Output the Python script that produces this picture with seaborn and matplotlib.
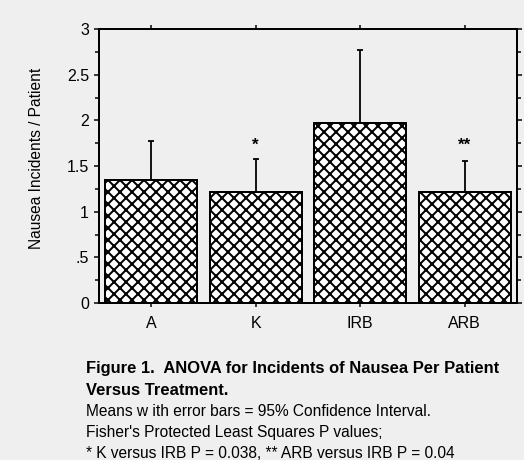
import matplotlib
matplotlib.use("Agg")
import matplotlib.pyplot as plt
from matplotlib.ticker import MultipleLocator, FixedLocator
import seaborn as sns

# values
treatments = ["A", "K", "IRB", "ARB"]
means = [1.35, 1.22, 1.97, 1.21]
ci_upper = [1.77, 1.58, 2.77, 1.56]
stars = ["", "*", "", "**"]
ytick_vals = [0, 0.5, 1, 1.5, 2, 2.5, 3]
ytick_text = ["0", ".5", "1", "1.5", "2", "2.5", "3"]

caption_bold = ["Figure 1.  ANOVA for Incidents of Nausea Per Patient",
                "Versus Treatment."]
caption_plain = ["Means w ith error bars = 95% Confidence Interval.",
                 "Fisher's Protected Least Squares P values;",
                 "* K versus IRB P = 0.038, ** ARB versus IRB P = 0.04"]

bg = "#efefef"
sns.set_style("ticks")
plt.rcParams["font.family"] = ["Liberation Sans", "DejaVu Sans"]
plt.rcParams["hatch.linewidth"] = 2.0
plt.rcParams["hatch.color"] = "black"
plt.rcParams["text.color"] = "black"
plt.rcParams["xtick.color"] = "black"
plt.rcParams["ytick.color"] = "black"
plt.rcParams["axes.edgecolor"] = "black"

W, H = 524, 460
fig = plt.figure(figsize=(W / 72, H / 72), dpi=72, facecolor=bg)
ax = fig.add_axes([99 / W, 1 - 303 / H, 418 / W, 274 / H])
ax.set_facecolor(bg)

sns.barplot(x=treatments, y=means, ax=ax, color="white", edgecolor="black",
            linewidth=2, width=0.88, errorbar=None, hatch="xx")
err = [m2 - m1 for m1, m2 in zip(means, ci_upper)]
ax.errorbar(range(len(treatments)), means, yerr=[[0] * len(means), err],
            fmt="none", ecolor="black", elinewidth=1.8, capsize=3, capthick=1.8,
            zorder=1)
for i, s in enumerate(stars):
    if s:
        ax.text(i, 1.64, s, ha="center", va="bottom", fontsize=17,
                fontweight="bold")

ax.set_xlim(-0.5, 3.5)
ax.set_ylim(0, 3)
ax.yaxis.set_major_locator(FixedLocator(ytick_vals))
ax.set_yticklabels(ytick_text)
ax.yaxis.set_minor_locator(MultipleLocator(0.25))
ax.set_xlabel("")
ax.set_ylabel("")

for s in ax.spines.values():
    s.set_visible(True)
    s.set_linewidth(2)
ax.tick_params(axis="y", which="both", left=True, right=True, direction="out",
               width=1.5, labelsize=16, pad=5)
ax.tick_params(axis="y", which="major", length=5)
ax.tick_params(axis="y", which="minor", length=4)
ax.tick_params(axis="x", which="major", bottom=True, top=True, direction="out",
               length=4, width=1.5, labelsize=16, pad=9)

fig.text(37 / W, 1 - 158 / H, "Nausea Incidents / Patient", rotation=90,
         ha="center", va="center", fontsize=15.5)

y = 368
for line in caption_bold:
    fig.text(86 / W, 1 - y / H, line, ha="left", va="center", fontsize=16.5,
             fontweight="bold")
    y += 22.5
y = 412
for line in caption_plain:
    fig.text(86 / W, 1 - y / H, line, ha="left", va="center", fontsize=15.5)
    y += 20.5

fig.savefig("out.png", dpi=72, facecolor=bg)
